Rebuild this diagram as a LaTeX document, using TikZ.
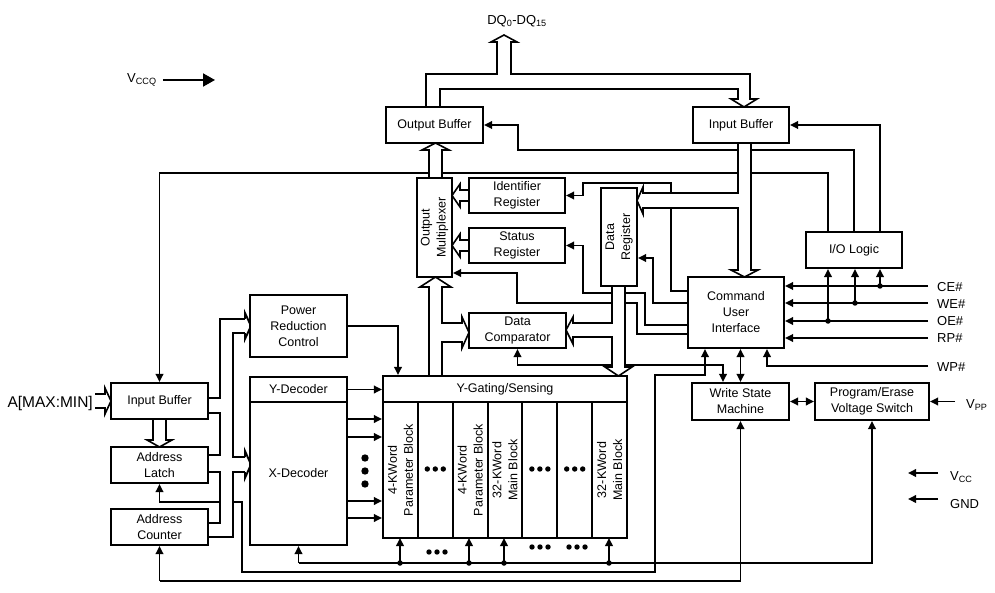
\documentclass[tikz,border=0pt]{standalone}
\usepackage{fontspec}
\setmainfont{Liberation Sans}
\usetikzlibrary{arrows.meta}
\pgfdeclarelayer{bg}
\pgfdeclarelayer{mid}
\pgfsetlayers{bg,mid,main}
\newcommand\myfs{\fontsize{12.5}{16}\selectfont}
\begin{document}
\begin{tikzpicture}[x=1pt,y=-1pt,
  box/.style={draw, line width=2.1pt, fill=white, inner sep=0pt, align=center, font=\myfs},
  rtxt/.style={rotate=90, align=center, inner sep=0pt, font=\myfs},
  ln/.style={line width=1.9pt},
  arr/.style={ln, -{Triangle[length=8pt,width=7.5pt]}},
  darr/.style={ln, {Triangle[length=8pt,width=7.5pt]}-{Triangle[length=8pt,width=7.5pt]}},
  bus/.style={draw, line width=1.6pt, fill=white, line join=miter},
  jd/.style={circle, fill, inner sep=0pt, minimum size=5.5pt},
  lbl/.style={inner sep=0pt, font=\fontsize{13}{15}\selectfont, anchor=west}]
\useasboundingbox (0,0) rectangle (995,593);

% ---------------- boxes ----------------
\node[box, minimum width=97, minimum height=36] (ob) at (434.5,125) {Output Buffer};
\node[box, minimum width=96, minimum height=36] (ibt) at (741,125) {Input Buffer};
\node[box, minimum width=35, minimum height=99] (mux) at (434.5,227.5) {};
\node[rtxt] at (mux) {Output\\Multiplexer};
\node[box, minimum width=96, minimum height=35] (idr) at (517,195.5) {Identifier\\Register};
\node[box, minimum width=96, minimum height=35] (sr) at (517,245.5) {Status\\Register};
\node[box, minimum width=36, minimum height=98] (dr) at (619,237) {};
\node[rtxt] at (dr) {Data\\Register};
\node[box, minimum width=97, minimum height=35] (dc) at (517.5,330.5) {Data\\Comparator};
\node[box, minimum width=96, minimum height=36] (iol) at (854,250) {I/O Logic};
\node[box, minimum width=96, minimum height=71] (cui) at (736,312.5) {Command\\User\\Interface};
\node[box, minimum width=97, minimum height=37] (wsm) at (740.5,401.5) {Write State\\Machine};
\node[box, minimum width=114, minimum height=37] (pevs) at (872,401.5) {Program/Erase\\Voltage Switch};
\node[box, minimum width=97, minimum height=62] (prc) at (298.5,326) {Power\\Reduction\\Control};
\node[box, minimum width=97, minimum height=25] (yd) at (298.5,389.5) {Y-Decoder};
\node[box, minimum width=97, minimum height=143] (xd) at (298.5,473.5) {X-Decoder};
\node[box, minimum width=97, minimum height=36] (ibl) at (159.5,401) {Input Buffer};
\node[box, minimum width=97, minimum height=36] (al) at (159.5,465) {Address\\Latch};
\node[box, minimum width=97, minimum height=36] (ac) at (159.5,527) {Address\\Counter};
\node[box, minimum width=244, minimum height=26] (yg) at (505,389) {Y-Gating/Sensing};
\node[box, minimum width=34.86, minimum height=136] (c1) at (400.43,470) {};
\node[box, minimum width=34.86, minimum height=136] (c2) at (435.29,470) {};
\node[box, minimum width=34.86, minimum height=136] (c3) at (470.14,470) {};
\node[box, minimum width=34.86, minimum height=136] (c4) at (505.00,470) {};
\node[box, minimum width=34.86, minimum height=136] (c5) at (539.86,470) {};
\node[box, minimum width=34.86, minimum height=136] (c6) at (574.71,470) {};
\node[box, minimum width=34.86, minimum height=136] (c7) at (609.57,470) {};
\node[rtxt] at (c1) {4-KWord\\Parameter Block};
\node[rtxt] at (c3) {4-KWord\\Parameter Block};
\node[rtxt] at (c4) {32-KWord\\Main Block};
\node[rtxt] at (c7) {32-KWord\\Main Block};
\foreach \cx in {435.29,539.86,574.71}{
  \foreach \dx in {-8,0,8} \fill (\cx+\dx,469) circle[radius=2.7pt];
}
\foreach \dx in {-8,0,8} {
  \fill (437+\dx,552) circle[radius=2.7pt];
  \fill (540+\dx,547) circle[radius=2.7pt];
  \fill (577+\dx,547) circle[radius=2.7pt];
}
\foreach \yy in {458,471,484} \fill (365,\yy) circle[radius=3.7pt];

% ---------------- labels ----------------
\node[inner sep=0pt, font=\fontsize{13}{15}\selectfont] (dq) at (517,21) {DQ\textsubscript{0}-DQ\textsubscript{15}};
\node[lbl] (vccq) at (127,80) {V\textsubscript{CCQ}};
\node[lbl] (ce) at (937,287) {CE\#};
\node[lbl] (we) at (937,304) {WE\#};
\node[lbl] (oe) at (937,321) {OE\#};
\node[lbl] (rp) at (937,338) {RP\#};
\node[lbl] (wp) at (937,367) {WP\#};
\node[lbl] (vpp) at (966,405) {V\textsubscript{PP}};
\node[lbl] (vcc) at (950,477) {V\textsubscript{CC}};
\node[lbl] (gnd) at (950,504) {GND};
\node[inner sep=0pt, anchor=east, font=\fontsize{15.5}{18}\selectfont] (amm) at (93,403) {A[MAX:MIN]};

% ---------------- single-line connectors ----------------
\begin{pgfonlayer}{bg}
\draw[ln, -{Triangle[length=12pt,width=13pt]}] (vccq.east |- 0,80) ++(6,0) -- (215,80);
\draw[arr] (iol.north) |- (518,150) |- (ob.east);
\draw[arr] (iol.north -| 880,0) |- (ibt.east);
\draw[arr] (iol.north -| 828,0) |- (ibl.north |- 0,173) -- (ibl.north);
\draw[arr] (cui.west |- 0,291) -| (671,183) -| (583,195.5) -- (idr.east);
\draw[arr] (cui.west |- 0,325) -| (645,293) -| (583,245.5) -- (sr.east);
\draw[arr] (cui.west |- 0,334) -| (637,303) -| (517,273) -- (mux.east |- 0,273);
\draw[arr] (cui.west |- 0,303) -| (653,258) -- (dr.east |- 0,258);
\draw[arr] (928,286) -- (cui.east |- 0,286);
\draw[arr] (928,303) -- (cui.east |- 0,303);
\draw[arr] (928,321) -- (cui.east |- 0,321);
\draw[arr] (928,338) -- (cui.east |- 0,338);
\draw[arr] (928,366) -| (cui.south -| 767,0);
\draw[arr] (880,286) -- (iol.south -| 880,0);
\draw[arr] (855,303) -- (iol.south -| 855,0);
\draw[arr] (828,321) -- (iol.south -| 828,0);
\node[jd] at (880,286) {};
\node[jd] at (855,303) {};
\node[jd] at (828,321) {};
\draw[darr] (wsm.north) -- (wsm.north |- cui.south);
\draw[darr] (wsm.east) -- (pevs.west);
\draw[arr] (955,401.5) -- (pevs.east);
\draw[arr] (938,473) -- (908,473);
\draw[arr] (938,499) -- (908,499);
\draw[darr] (dc.south) -- (dc.south |- 0,365) -| (wsm.north -| 723,0);
\draw[arr] (233,502) -| (242,572) -| (655,375) -| (cui.south -| 705,0);
\draw[arr] (xd.south |- 0,563) -| (pevs.south);
\draw[arr] (xd.south |- 0,563) -- (xd.south);
\foreach \bx in {400,469,504,609} {
  \draw[arr] (\bx,563) -- (\bx,538);
  \node[jd] at (\bx,563) {};
}
\draw[arr] (ac.south |- 0,581) -- (ac.south);
\draw[arr] (ac.south |- 0,581) -| (wsm.south);
\draw[arr] (220,502) -- (al.south |- 0,502) -- (al.south);
% address buses
\draw[ln] (ibl.east |- 0,398) -| (220,319) -- (245,319);
\draw[ln] (ibl.east |- 0,413) -| (220,455) -- (al.east |- 0,455);
\draw[ln] (al.east |- 0,472) -| (220,523) -- (ac.east |- 0,523);
\draw[ln] (245,333) -- (233,333) -- (233,457) -- (245,457);
\draw[ln] (245,472) -- (233,472) -- (233,537) -- (ac.east |- 0,537);
\draw[ln, line join=miter] (245,319) -- (245,313) -- (251,326) -- (245,339) -- (245,333);
\draw[ln, line join=miter] (245,457) -- (245,451) -- (251,464.5) -- (245,478) -- (245,472);
% decoder to array
\draw[arr] (yd.east) -- (yg.west |- yd.east);
\foreach \yy in {419,437,501,518} \draw[arr] (xd.east |- 0,\yy) -- (c1.west |- 0,\yy);
\draw[arr] (prc.east) -| (yg.north -| 398,0);
\end{pgfonlayer}

% ---------------- wide buses ----------------
\begin{pgfonlayer}{mid}
\path[bus] (426,107) -- (426,74) -- (497,74) -- (497,42) -- (491,42) -- (504,35) -- (517,42) -- (511,42) -- (511,74) -- (750,74) -- (750,99) -- (757,99) -- (744,107) -- (731,99) -- (738,99) -- (738,89) -- (440,89) -- (440,107);
\path[bus] (429,178) -- (429,150) -- (422,150) -- (435.5,143) -- (449,150) -- (442,150) -- (442,178);
\path[bus] (429,376) -- (429,287) -- (420,287) -- (435.5,277) -- (451,287) -- (442,287) -- (442,323) -- (462,323) -- (462,317) -- (469,332.5) -- (462,348) -- (462,342) -- (442,342) -- (442,376);
\path[bus] (738,143) -- (738,193) -- (643,193) -- (643,187) -- (637,200.5) -- (643,214) -- (643,208) -- (738,208) -- (738,270) -- (731,270) -- (744.5,277) -- (758,270) -- (751,270) -- (751,143);
\path[bus] (612,286) -- (612,323) -- (573,323) -- (573,317) -- (566,330) -- (573,344) -- (573,337) -- (612,337) -- (612,367) -- (605,367) -- (618.5,376) -- (632,367) -- (625,367) -- (625,286);
\path[bus] (469,190) -- (460,190) -- (460,184) -- (452,195.5) -- (460,207) -- (460,201) -- (469,201);
\path[bus] (469,240) -- (460,240) -- (460,234) -- (452,245.5) -- (460,257) -- (460,251) -- (469,251);
\path[bus] (153,419) -- (153,440) -- (147,440) -- (159.5,447) -- (172,440) -- (166,440) -- (166,419);
\path[bus] (95,394) -- (105,394) -- (105,388) -- (111,401) -- (105,414) -- (105,408) -- (95,408);
\end{pgfonlayer}
\end{tikzpicture}
\end{document}
